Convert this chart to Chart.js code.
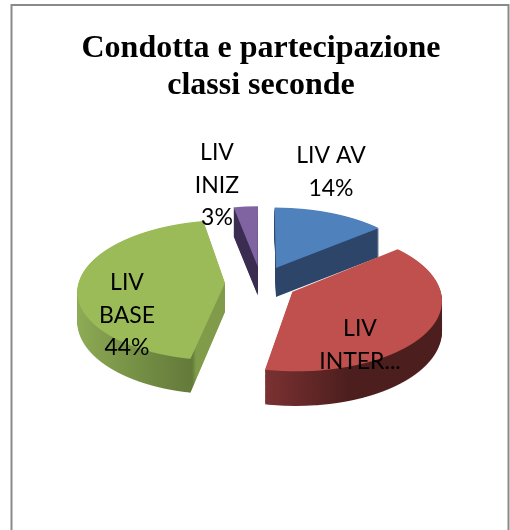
<!DOCTYPE html>
<html>
<head>
<meta charset="utf-8">
<style>html,body{margin:0;padding:0;background:#fff;overflow:hidden}canvas{display:block}</style>
<script src="https://cdn.jsdelivr.net/npm/chart.js@4"></script>
</head>
<body>
<div style="width:510px;height:530px;position:relative"><canvas id="c" width="510" height="530"></canvas></div>
<script>
const categories = ["LIV AV", "LIV INTER...", "LIV BASE", "LIV INIZ"];
const values = [14, 39, 44, 3];
const topColors = ["#4f81bd", "#c0504d", "#9bbb59", "#8064a2"];
const labelLines = [["LIV AV", "14%"], ["LIV", "INTER..."], ["LIV", "BASE", "44%"], ["LIV", "INIZ", "3%"]];
const labelAnchors = [[331, 163], [360, 336], [127, 290], [217, 160]];
const sideStops = [
  [[0, "#2c4568"], [1, "#2c4568"]],
  [[0, "#7d3232"], [0.41, "#7a3131"], [0.66, "#4d1e1e"], [1, "#4d1e1e"]],
  [[0, "#8fad56"], [0.41, "#637a39"], [0.42, "#809b4a"], [1, "#809b4a"]],
  [[0, "#3b2d52"], [1, "#3b2d52"]]
];
const drawOrder = [3, 0, 2, 1];
const view = {cy: 283, b: 0.474, q: 0.0007, frontGrow: 0.064, depth: 29, explode: 36};

const pie3d = {
  id: "pie3d",
  beforeDraw(chart) {
    const c = chart.ctx;
    c.save();
    c.strokeStyle = "#8a8a8a";
    c.lineWidth = 2;
    c.strokeRect(11.5, 5, 497, 540);
    c.restore();
  },
  beforeDatasetsDraw(chart) {
    const c = chart.ctx, els = chart.getDatasetMeta(0).data;
    const paint = (el, d) => {
      const mid = (el.startAngle + el.endAngle) / 2;
      const k0 = view.cy + d;
      for (let y = k0 - 90; y < k0 + 110; y++) {
        const v = y + 0.5 - k0;
        const bb = v > 0 ? view.b * (1 + view.frontGrow * d / view.depth) : view.b;
        const den = bb + view.q * v;
        const Y = v / den;
        const w = 1 + view.q * v / bb;
        const ky = den * den / bb;
        c.save();
        c.beginPath();
        c.rect(0, y, 510, 1);
        c.clip();
        c.translate(el.x, k0 + v);
        c.scale(w, ky);
        c.translate(-el.x, -(el.y + Y));
        c.translate(Math.cos(mid) * view.explode, Math.sin(mid) * view.explode);
        el.draw(c);
        c.restore();
      }
    };
    drawOrder.forEach(i => {
      const el = els[i], o = el.options, base = o.backgroundColor;
      const R = el.outerRadius;
      const g = c.createLinearGradient(el.x - R, 0, el.x + R, 0);
      sideStops[i].forEach(([p, col]) => g.addColorStop(p, col));
      o.backgroundColor = g;
      for (let d = view.depth; d >= 1; d--) paint(el, d);
      o.backgroundColor = base;
      paint(el, 0);
    });
    return false;
  },
  afterDraw(chart) {
    const c = chart.ctx;
    c.save();
    c.fillStyle = "#000";
    c.textAlign = "center";
    c.textBaseline = "alphabetic";
    c.font = "23px Lato";
    labelLines.forEach((lines, i) => {
      lines.forEach((t, j) => c.fillText(t, labelAnchors[i][0], labelAnchors[i][1] + j * 32.5));
    });
    c.restore();
  }
};

new Chart(document.getElementById("c"), {
  type: "pie",
  data: {
    labels: categories,
    datasets: [{data: values, backgroundColor: topColors, borderWidth: 0, radius: 146.5}]
  },
  plugins: [pie3d],
  options: {
    responsive: false,
    animation: false,
    layout: {padding: {left: 12, right: 0, top: 0, bottom: 0}},
    plugins: {
      legend: {display: false},
      tooltip: {enabled: false},
      title: {
        display: true,
        text: ["Condotta e partecipazione", "classi seconde"],
        color: "#000",
        font: {family: "'Liberation Serif'", size: 32, weight: "bold", lineHeight: 1.16},
        padding: {top: 30, bottom: 10}
      }
    }
  }
});
</script>
</body>
</html>
